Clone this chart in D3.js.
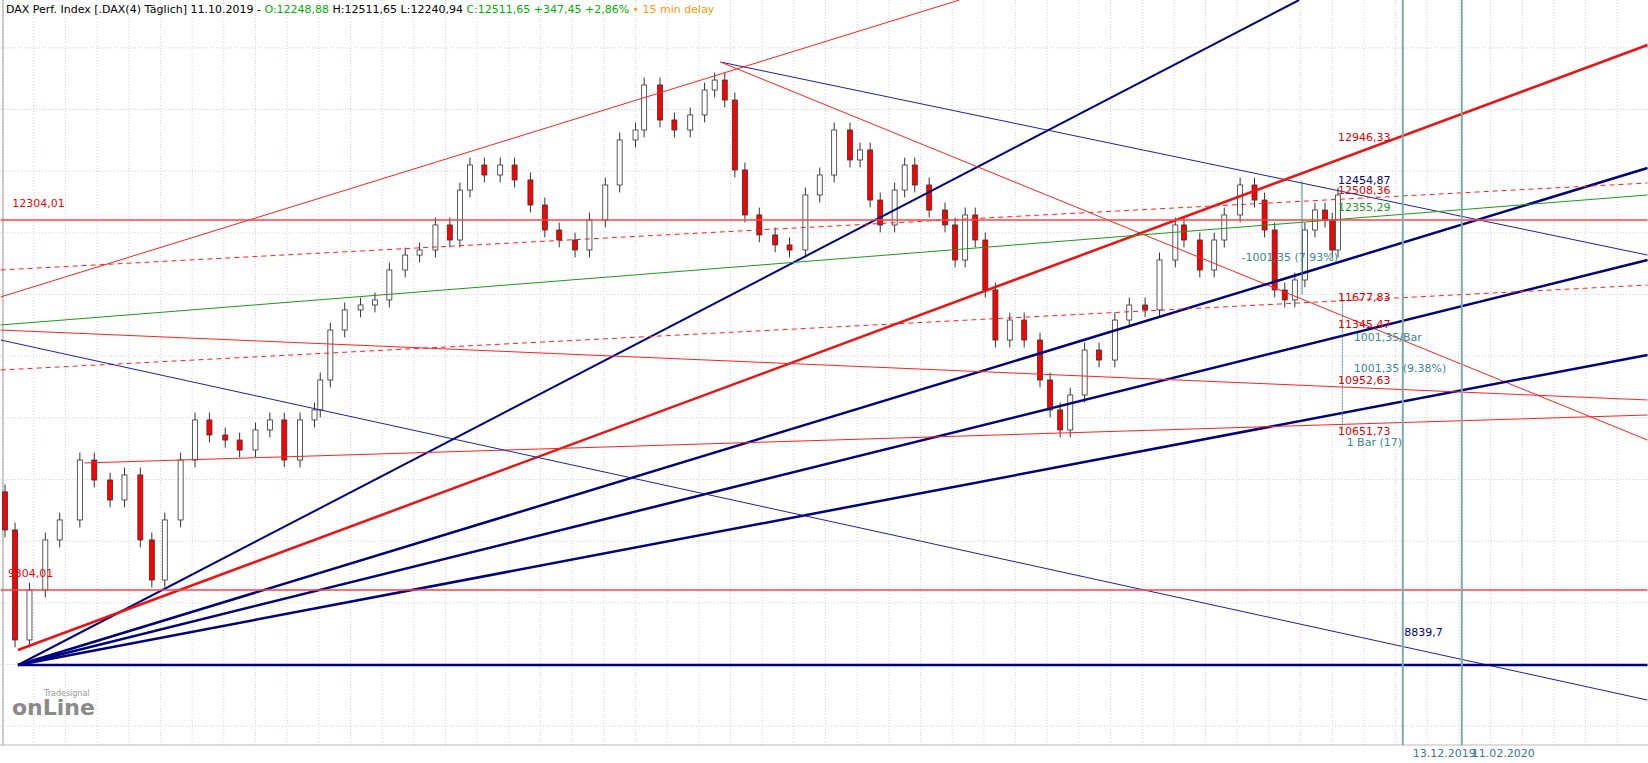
<!DOCTYPE html>
<html><head><meta charset="utf-8">
<script src="https://cdn.jsdelivr.net/npm/d3@7"></script>
<style>
html,body{margin:0;padding:0;background:#fff;overflow:hidden;}
svg{display:block;}
svg text{font-size:11px;font-family:"DejaVu Sans",Verdana,sans-serif;}
</style></head><body>
<div id="chart"></div>
<script>
// bar index (trading days since start) and close
const bars = [0,7,17,28,38,52,62,73,83,94,102,111,122,132,142,153,163,174,184,194,205,215,219,226,236,247,257,267,278,288,299,309,316,323,333,344,354,365,375,385,396,406,417,427,438,444,455,465,476,486,493,500,507,514,524,535,545,556,566,576,587,594,601,608,618,625,632,642,653,660,667,674,681,688,698,708,719,726,733,740,750,760,771,781,792,802,813,819,830,840,847,858,868,875,882,889,896,903,910,917,922,926];
const closes = [9791,8899,9304,9710,9872,10358,10196,10034,10237,9710,9385,9872,10358,10683,10561,10520,10439,10602,10683,10358,10683,10764,11007,11412,11575,11615,11656,11899,12020,12061,12264,12142,12547,12750,12669,12750,12629,12426,12223,12142,12061,12304,12588,12953,13034,13399,13115,13034,13156,13358,13439,13277,12710,12345,12183,12102,12061,12507,12669,13034,12791,12872,12466,12264,12547,12750,12588,12385,12264,11980,12345,12142,11737,11331,11493,11331,11007,10764,10602,10885,11250,11169,11493,11615,11575,11980,12264,12142,11899,12142,12345,12588,12466,12223,11737,11656,11818,12223,12385,12304,12061,12507];
const openFirst = 10100;

// trend lines: [bar1, price1, bar2, price2, colour, width, dash]
const lines = [
  [-3,11680, 663,14088, "#ff2020",1,null],
  [9,8696, 899,14088, "#000080",2,null],
  [497,13585, 1141,12020, "#2020a0",1,null],
  [497,13585, 1141,10520, "#ff2020",1,null],
  [9,8818, 1141,13723, "#ee1111",2.5,null],
  [9,8696, 1141,12726, "#000080",2.5,null],
  [9,8696, 1141,11980, "#000080",2.5,null],
  [9,8696, 1141,11210, "#000080",2.5,null],
  [-3,11453, 1141,12507, "#1a9a1a",1,null],
  [-3,11088, 1141,11777, "#ff2020",1,"5,4"],
  [-3,11899, 1141,12604, "#ff2020",1,"5,4"],
  [-3,11412, 1141,10845, "#ff2020",1,null],
  [55,10334, 1141,10723, "#ff2020",1,null],
  [-3,11331, 1141,8412, "#2020a0",1,null],
  [-3,12304, 1141,12304, "#ff4040",1.5,null],
  [-3,9304, 1141,9304, "#ff4040",1.5,null],
  [9,8696, 1141,8696, "#000080",2.5,null]
];
// labels: [bar, price, text, colour]
const labels = [
  [5,12410,"12304,01","#ff0000"],[2,9410,"9304,01","#ff0000"],
  [926,12946,"12946,33","#e00000"],[926,12600,"12454,87","#000080"],
  [926,12515,"12508,36","#e00000"],[926,12375,"12355,29","#1a9a1a"],
  [859,11970,"-1001,35 (7.93%)","#3a8a8a"],[926,11645,"11677,83","#e00000"],
  [926,11430,"11345,47","#e00000"],[937,11320,"1001,35/Bar","#3a8a8a"],
  [937,11070,"1001,35 (9.38%)","#3a8a8a"],[926,10975,"10952,63","#e00000"],
  [926,10560,"10651,73","#e00000"],[932,10470,"1 Bar (17)","#3a8a8a"],
  [972,8930,"8839,7","#000080"]
];
const dateLabels = [[971,"13.12.2019"],[1012,"11.02.2020"]];

const W = 1648, H = 763, PLOT_B = 745;
const x = d3.scaleLinear().domain([0, 926]).range([5, 1338]);
const y = d3.scaleLinear().domain([8696, 14088]).range([665, 0]);

const svg = d3.select("#chart").append("svg").attr("width", W).attr("height", H);

// grid
const g = svg.append("g");
g.selectAll("line.v").data(d3.range(-2, 1150, 22)).join("line")
  .attr("x1", d => x(d)).attr("x2", d => x(d)).attr("y1", 0).attr("y2", PLOT_B)
  .attr("stroke", (d, i) => i % 2 ? "#e6c8e6" : "#d4d4d4").attr("stroke-dasharray", "1,2");
g.selectAll("line.h").data(d3.range(8200, 14200, 500)).join("line")
  .attr("x1", 0).attr("x2", W).attr("y1", d => y(d)).attr("y2", d => y(d))
  .attr("stroke", "#d4d4d4").attr("stroke-dasharray", "1,2");
svg.append("line").attr("x1", 3).attr("x2", 3).attr("y1", 0).attr("y2", PLOT_B).attr("stroke", "#999");
svg.append("line").attr("x1", 0).attr("x2", W).attr("y1", PLOT_B).attr("y2", PLOT_B).attr("stroke", "#bbb");

// candles
const data = closes.map((c, i) => ({ b: bars[i], o: i ? closes[i - 1] : openFirst, c }));
const cg = svg.append("g");
cg.selectAll("line").data(data).join("line")
  .attr("x1", d => x(d.b)).attr("x2", d => x(d.b))
  .attr("y1", d => y(Math.max(d.o, d.c) + 60)).attr("y2", d => y(Math.min(d.o, d.c) - 60))
  .attr("stroke", "#333");
cg.selectAll("rect").data(data).join("rect")
  .attr("x", d => x(d.b) - 2.5).attr("width", 5)
  .attr("y", d => y(Math.max(d.o, d.c))).attr("height", d => Math.max(1, Math.abs(y(d.o) - y(d.c))))
  .attr("fill", d => d.c >= d.o ? "#fff" : "#ff0000").attr("stroke", "#333").attr("stroke-width", 0.8);

// trend lines
svg.append("g").selectAll("line").data(lines).join("line")
  .attr("x1", d => x(d[0])).attr("y1", d => y(d[1])).attr("x2", d => x(d[2])).attr("y2", d => y(d[3]))
  .attr("stroke", d => d[4]).attr("stroke-width", d => d[5]).attr("stroke-dasharray", d => d[6]);

// measuring lines and date markers
svg.append("line").attr("x1", x(901)).attr("x2", x(901)).attr("y1", y(12620)).attr("y2", y(11700)).attr("stroke", "#3a8a8a");
svg.append("line").attr("x1", x(929)).attr("x2", x(929)).attr("y1", y(11700)).attr("y2", y(10600)).attr("stroke", "#3a8a8a").attr("stroke-dasharray", "2,1");
svg.append("g").selectAll("line").data(dateLabels).join("line")
  .attr("x1", d => x(d[0])).attr("x2", d => x(d[0])).attr("y1", 0).attr("y2", PLOT_B)
  .attr("stroke", "#7aaaaa").attr("stroke-width", 2);
svg.append("g").selectAll("text").data(dateLabels).join("text")
  .attr("x", d => x(d[0]) + 10).attr("y", 757).attr("fill", "#3a7a8a").text(d => d[1]);

svg.append("g").selectAll("text").data(labels).join("text")
  .attr("x", d => x(d[0])).attr("y", d => y(d[1])).attr("fill", d => d[3]).text(d => d[2]);

// header
const hd = svg.append("text").attr("x", 6).attr("y", 13);
[["DAX Perf. Index [.DAX(4) Täglich] 11.10.2019 - ", "#000"], ["O:12248,88 ", "#00b000"],
 ["H:12511,65 L:12240,94 ", "#000"], ["C:12511,65 +347,45 +2,86% ", "#00b000"], ["• 15 min delay", "#ff9900"]]
  .forEach(([t, c]) => hd.append("tspan").attr("fill", c).text(t));

// logo
svg.append("text").attr("x", 44).attr("y", 696).attr("fill", "#999").style("font-size", "8px").text("Tradesignal");
svg.append("text").attr("x", 12).attr("y", 715).attr("fill", "#8a8a8a").style("font-size", "22px").style("font-weight", "bold").text("onLine");
</script></body></html>
